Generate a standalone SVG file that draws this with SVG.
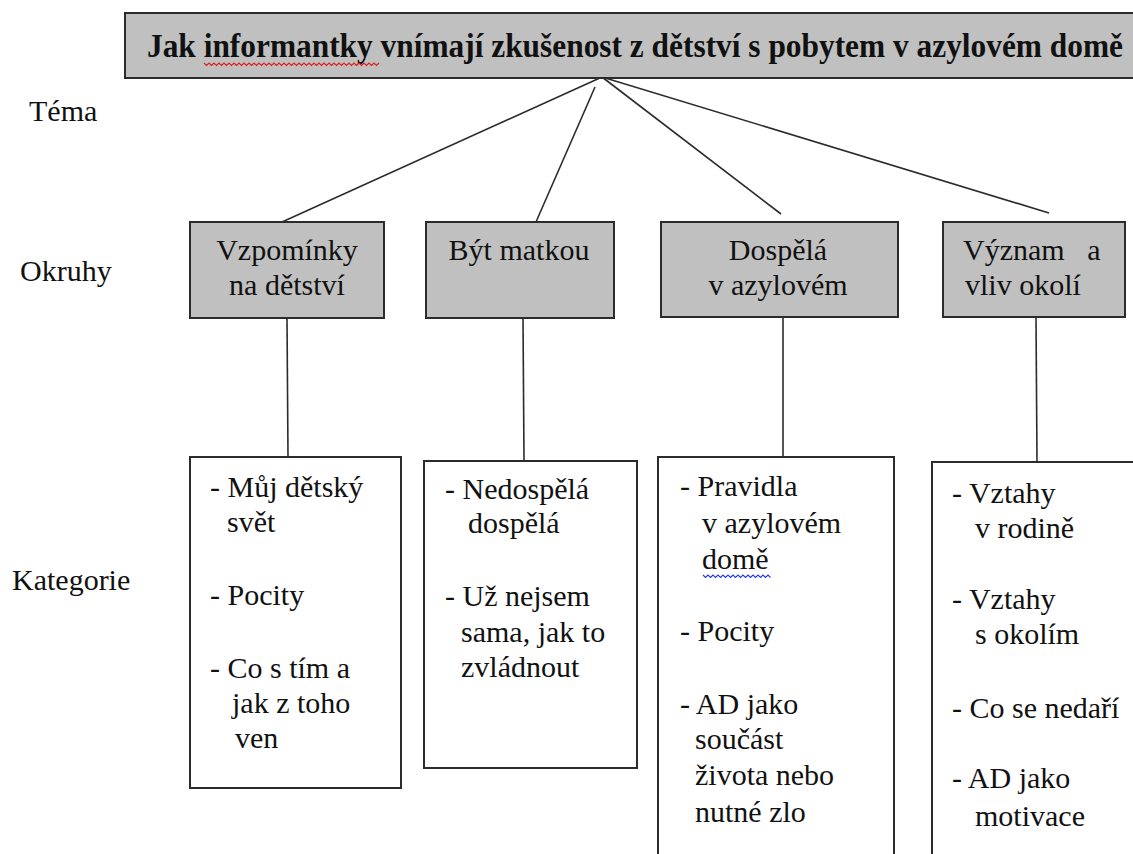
<svg xmlns="http://www.w3.org/2000/svg" width="1133" height="854" viewBox="0 0 1133 854">
<style>
  .t{font-family:"Liberation Serif","Times New Roman",serif;font-size:30px;fill:#111111}
  .title{font-family:"Liberation Serif","Times New Roman",serif;font-size:34px;font-weight:bold;fill:#111111}
  .ok{fill:#c0c0c0;stroke:#2b2b2b;stroke-width:2}
  .cat{fill:#ffffff;stroke:#2b2b2b;stroke-width:2}
  .conn line{stroke:#2b2b2b;stroke-width:1.6}
  .wavy{fill:none;stroke-width:1.2}
</style>
<rect width="1133" height="854" fill="#ffffff"/>

<g id="connectors" class="conn">
  <line x1="602" y1="77" x2="282" y2="222"/>
  <line x1="595" y1="87" x2="536" y2="222"/>
  <line x1="602" y1="77" x2="781" y2="214"/>
  <line x1="602" y1="77" x2="1049" y2="213"/>
  <line x1="287" y1="318" x2="288" y2="457"/>
  <line x1="523" y1="318" x2="524" y2="461"/>
  <line x1="783" y1="317" x2="783" y2="457"/>
  <line x1="1036" y1="317" x2="1037" y2="462"/>
</g>

<g id="tema">
  <rect x="125" y="13" width="1020" height="65" fill="#c0c0c0" stroke="#2b2b2b" stroke-width="2"/>
  <text class="title" x="0" y="0" transform="translate(147 57) scale(0.9225 1)" textLength="1058" lengthAdjust="spacingAndGlyphs">Jak informantky vnímají zkušenost z dětství s pobytem v azylovém domě</text>
  <path class="wavy" stroke="#e02020" d="M204 63 l2.5 2.5 l2.5 -2.5 l2.5 2.5 l2.5 -2.5 l2.5 2.5 l2.5 -2.5 l2.5 2.5 l2.5 -2.5 l2.5 2.5 l2.5 -2.5 l2.5 2.5 l2.5 -2.5 l2.5 2.5 l2.5 -2.5 l2.5 2.5 l2.5 -2.5 l2.5 2.5 l2.5 -2.5 l2.5 2.5 l2.5 -2.5 l2.5 2.5 l2.5 -2.5 l2.5 2.5 l2.5 -2.5 l2.5 2.5 l2.5 -2.5 l2.5 2.5 l2.5 -2.5 l2.5 2.5 l2.5 -2.5 l2.5 2.5 l2.5 -2.5 l2.5 2.5 l2.5 -2.5 l2.5 2.5 l2.5 -2.5 l2.5 2.5 l2.5 -2.5 l2.5 2.5 l2.5 -2.5 l2.5 2.5 l2.5 -2.5 l2.5 2.5 l2.5 -2.5 l2.5 2.5 l2.5 -2.5 l2.5 2.5 l2.5 -2.5 l2.5 2.5 l2.5 -2.5 l2.5 2.5 l2.5 -2.5 l2.5 2.5 l2.5 -2.5 l2.5 2.5 l2.5 -2.5 l2.5 2.5 l2.5 -2.5 l2.5 2.5 l2.5 -2.5 l2.5 2.5 l2.5 -2.5 l2.5 2.5 l2.5 -2.5 l2.5 2.5 l2.5 -2.5 l2.5 2.5 l2.5 -2.5 l2.5 2.5 l2.5 -2.5"/>
</g>

<g id="labels">
  <text class="t" x="29" y="121">Téma</text>
  <text class="t" x="20" y="281">Okruhy</text>
  <text class="t" x="12" y="590">Kategorie</text>
</g>

<g id="okruh1">
  <rect class="ok" x="190" y="222" width="194" height="96"/>
  <text class="t" text-anchor="middle"><tspan x="287" y="260">Vzpomínky</tspan><tspan x="287" y="295">na dětství</tspan></text>
</g>
<g id="okruh2">
  <rect class="ok" x="426" y="222" width="188" height="96"/>
  <text class="t" text-anchor="middle" x="519" y="260">Být matkou</text>
</g>
<g id="okruh3">
  <rect class="ok" x="661" y="222" width="237" height="95"/>
  <text class="t" text-anchor="middle"><tspan x="778" y="260">Dospělá</tspan><tspan x="778" y="295">v azylovém</tspan></text>
</g>
<g id="okruh4">
  <rect class="ok" x="943" y="222" width="182" height="95"/>
  <text class="t" xml:space="preserve"><tspan x="963" y="260">Význam   a</tspan><tspan x="965" y="295">vliv okolí</tspan></text>
</g>

<g id="kat1">
  <rect class="cat" x="190" y="457" width="211" height="331"/>
  <text class="t">
    <tspan x="210" y="497">- Můj dětský</tspan>
    <tspan x="227" y="532">svět</tspan>
    <tspan x="210" y="605">- Pocity</tspan>
    <tspan x="210" y="678">- Co s tím a</tspan>
    <tspan x="232" y="713">jak z toho</tspan>
    <tspan x="235" y="748">ven</tspan>
  </text>
</g>
<g id="kat2">
  <rect class="cat" x="424" y="461" width="213" height="307"/>
  <text class="t">
    <tspan x="445" y="499">- Nedospělá</tspan>
    <tspan x="468" y="533">dospělá</tspan>
    <tspan x="445" y="606">- Už nejsem</tspan>
    <tspan x="461" y="642">sama, jak to</tspan>
    <tspan x="461" y="677">zvládnout</tspan>
  </text>
</g>
<g id="kat3">
  <rect class="cat" x="658" y="457" width="236" height="410"/>
  <text class="t">
    <tspan x="680" y="496">- Pravidla</tspan>
    <tspan x="702" y="533">v azylovém</tspan>
    <tspan x="702" y="569">domě</tspan>
    <tspan x="680" y="641">- Pocity</tspan>
    <tspan x="680" y="714">- AD jako</tspan>
    <tspan x="695" y="749">součást</tspan>
    <tspan x="695" y="785">života nebo</tspan>
    <tspan x="695" y="822">nutné zlo</tspan>
  </text>
  <path class="wavy" stroke="#2a3be0" d="M703 575 l2.5 2.5 l2.5 -2.5 l2.5 2.5 l2.5 -2.5 l2.5 2.5 l2.5 -2.5 l2.5 2.5 l2.5 -2.5 l2.5 2.5 l2.5 -2.5 l2.5 2.5 l2.5 -2.5 l2.5 2.5 l2.5 -2.5 l2.5 2.5 l2.5 -2.5 l2.5 2.5 l2.5 -2.5 l2.5 2.5 l2.5 -2.5 l2.5 2.5 l2.5 -2.5 l2.5 2.5 l2.5 -2.5 l2.5 2.5 l2.5 -2.5 l2.5 2.5"/>
</g>
<g id="kat4">
  <rect class="cat" x="932" y="462" width="220" height="410"/>
  <text class="t">
    <tspan x="952" y="503">- Vztahy</tspan>
    <tspan x="975" y="538">v rodině</tspan>
    <tspan x="952" y="609">- Vztahy</tspan>
    <tspan x="975" y="644">s okolím</tspan>
    <tspan x="952" y="718">- Co se nedaří</tspan>
    <tspan x="952" y="788">- AD jako</tspan>
    <tspan x="975" y="826">motivace</tspan>
  </text>
</g>
</svg>
